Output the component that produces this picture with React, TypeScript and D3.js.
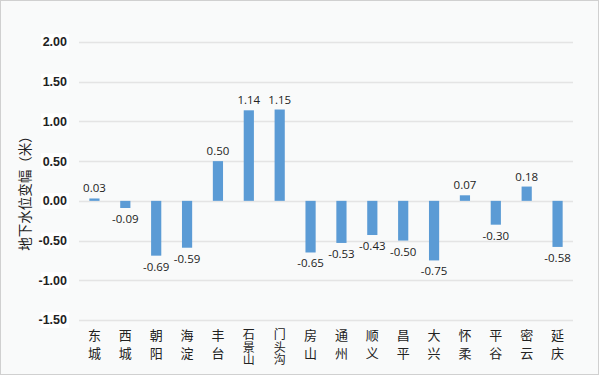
import React, { useEffect, useRef } from "react";
import * as d3 from "d3";

const categories = ["东城", "西城", "朝阳", "海淀", "丰台", "石景山", "门头沟", "房山", "通州", "顺义", "昌平", "大兴", "怀柔", "平谷", "密云", "延庆"];
const values = [0.03, -0.09, -0.69, -0.59, 0.5, 1.14, 1.15, -0.65, -0.53, -0.43, -0.5, -0.75, 0.07, -0.3, 0.18, -0.58];
const yTicks = [2.0, 1.5, 1.0, 0.5, 0.0, -0.5, -1.0, -1.5];
const yTitle = "地下水位变幅（米）";

export default function App() {
  const ref = useRef<SVGSVGElement>(null);
  useEffect(() => {
    const svg = d3.select(ref.current);
    svg.selectAll("*").remove();
    const W = 600, H = 376;
    const left = 79, right = 573, top = 42, bottom = 320;
    svg.append("rect").attr("x", 0.5).attr("y", 0.5).attr("width", W - 2).attr("height", H - 2)
      .attr("fill", "#f9fafa").attr("stroke", "#d0d0d0").attr("stroke-width", 1);
    const y = d3.scaleLinear().domain([-1.5, 2]).range([bottom, top]);
    const x = d3.scaleBand<string>().domain(categories).range([left, right]).paddingInner(0.67).paddingOuter(0.335);

    const g = svg.append("g");
    g.selectAll("line.grid").data(yTicks).enter().append("line")
      .attr("x1", left).attr("x2", right)
      .attr("y1", (d) => Math.round(y(d)) + 0.5).attr("y2", (d) => Math.round(y(d)) + 0.5)
      .attr("stroke", "#e4e4e4").attr("stroke-width", 1.3);
    const tl = g.selectAll("g.tick").data(yTicks).enter().append("g")
      .attr("transform", (d) => `translate(67,${y(d)})`);
    tl.append("rect").attr("x", -26).attr("y", -8).attr("width", 28).attr("height", 16).attr("fill", "#ffffff");
    tl.append("text").attr("text-anchor", "end").attr("dy", "0.35em")
      .attr("font-family", "'Liberation Sans', Arial, sans-serif").attr("font-weight", "bold")
      .attr("font-size", 12.5).attr("fill", "#222")
      .text((d) => d.toFixed(2));
    g.selectAll("rect.bar").data(values).enter().append("rect")
      .attr("x", (d, i) => x(categories[i])!)
      .attr("width", x.bandwidth())
      .attr("y", (d) => y(Math.max(0, d)))
      .attr("height", (d) => Math.abs(y(d) - y(0)))
      .attr("fill", "#5b9bd5");
    g.selectAll("text.val").data(values).enter().append("text")
      .attr("x", (d, i) => x(categories[i])! + x.bandwidth() / 2)
      .attr("y", (d) => (d >= 0 ? y(d) - 6 : y(d) + 15))
      .attr("text-anchor", "middle")
      .attr("font-family", "'Open Sans', 'Noto Sans', sans-serif")
      .attr("font-size", 11.5).attr("fill", "#222")
      .text((d) => d.toFixed(2));
    categories.forEach((c) => {
      const cx = x(c)! + x.bandwidth() / 2;
      const chars = c.split("");
      const three = chars.length > 2;
      const step = three ? 12.5 : 18;
      const t = g.append("text").attr("text-anchor", "middle")
        .attr("font-family", "'Noto Sans CJK SC', sans-serif")
        .attr("font-size", three ? 12 : 13).attr("fill", "#222");
      chars.forEach((ch, j) => {
        t.append("tspan").attr("x", cx).attr("y", 335 + j * step).attr("dy", "0.35em").text(ch);
      });
    });
    g.append("text").attr("transform", `translate(25,190) rotate(-90)`)
      .attr("text-anchor", "middle").attr("dy", "0.35em")
      .attr("font-family", "'Noto Sans CJK SC', sans-serif")
      .attr("font-size", 13.5).attr("fill", "#222")
      .text(yTitle);
  }, []);
  return (
    <svg ref={ref} width={600} height={376} style={{ position: "absolute", left: 0, top: 0 }} />
  );
}
